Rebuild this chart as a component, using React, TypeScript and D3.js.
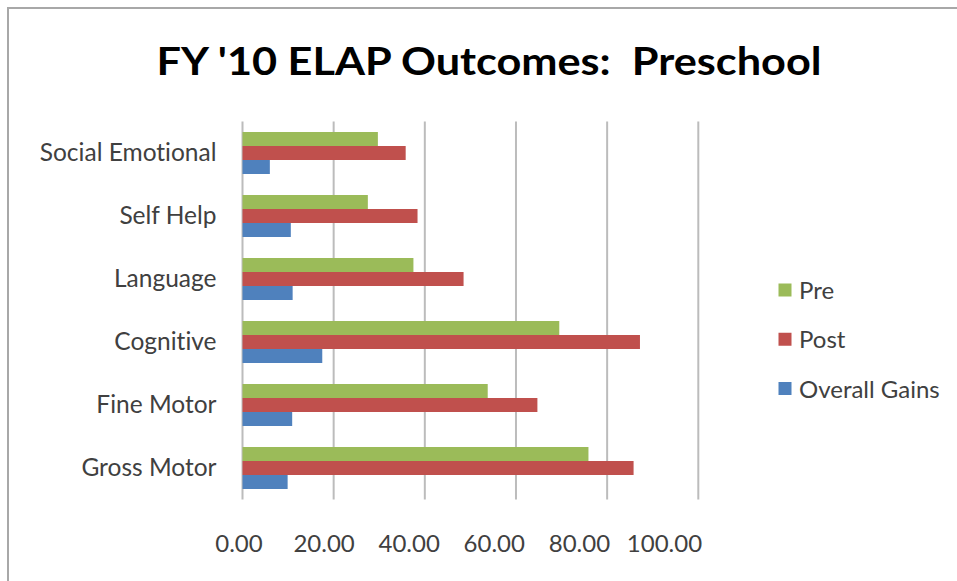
import React from "react";
import * as d3 from "d3";

const categories = ["Social Emotional", "Self Help", "Language", "Cognitive", "Fine Motor", "Gross Motor"];
const seriesNames = ["Pre", "Post", "Overall Gains"];
const preValues = [29.7, 27.5, 37.5, 69.5, 53.8, 75.9];
const postValues = [35.8, 38.4, 48.5, 87.2, 64.7, 85.8];
const gainValues = [6.0, 10.6, 11.0, 17.5, 10.9, 9.9];
const tickValues = [0, 20, 40, 60, 80, 100];
const tickLabels = ["0.00", "20.00", "40.00", "60.00", "80.00", "100.00"];
const seriesColors = ["#9BBB59", "#C0504D", "#4F81BD"];
const title = "FY '10 ELAP Outcomes:  Preschool";

const W = 957;
const H = 581;
const FONT = "Lato, 'Open Sans', sans-serif";
const noLig = { fontVariantLigatures: "none" as const, fontFeatureSettings: "'liga' 0" };

export default function App() {
  const series = [preValues, postValues, gainValues];
  const x = d3.scaleLinear().domain([0, 100]).range([242.5, 698.3]);
  const xLabel = d3.scaleLinear().domain([0, 100]).range([239, 664.5]);
  const y = d3
    .scaleBand<string>()
    .domain(categories)
    .range([121.5, 499.5])
    .paddingInner(1 / 3)
    .paddingOuter(1 / 6);
  const inner = d3
    .scaleBand<string>()
    .domain(seriesNames)
    .range([0, y.bandwidth()]);

  const legendY = d3.scalePoint<string>().domain(seriesNames).range([290, 388.5]);

  return (
    <svg
      width={W}
      height={H}
      style={{ position: "absolute", left: 0, top: 0, background: "#fff" }}
    >
      <rect x={0} y={0} width={W} height={H} fill="#fff" />
      <rect x={8} y={8} width={W + 20} height={H + 20} fill="none" stroke="#a8a8a8" strokeWidth={2} />
      <text
        x={489}
        y={74.5}
        textAnchor="middle"
        fontFamily={FONT}
        fontWeight="bold"
        fontSize={39}
        fill="#000"
        textLength={665}
        lengthAdjust="spacingAndGlyphs"
        style={{ whiteSpace: "pre", ...noLig }}
      >
        {title}
      </text>
      {tickValues.map((t) => (
        <line
          key={"g" + t}
          x1={x(t)}
          x2={x(t)}
          y1={121.5}
          y2={499.5}
          stroke="#bcbcbc"
          strokeWidth={2}
        />
      ))}
      {series.map((vals, si) =>
        categories.map((c, ci) => (
          <rect
            key={si + "-" + ci}
            x={x(0)}
            y={(y(c) as number) + (inner(seriesNames[si]) as number)}
            width={x(vals[ci]) - x(0)}
            height={inner.bandwidth()}
            fill={seriesColors[si]}
          />
        ))
      )}
      {categories.map((c) => (
        <text
          key={c}
          x={216.5}
          y={(y(c) as number) + y.bandwidth() / 2 + 8}
          textAnchor="end"
          fontFamily={FONT}
          fontSize={24.5}
          fill="#404040"
          style={noLig}
        >
          {c}
        </text>
      ))}
      {tickValues.map((t, i) => (
        <text
          key={"t" + t}
          x={xLabel(t)}
          y={552}
          textAnchor="middle"
          fontFamily={FONT}
          fontSize={24}
          fill="#404040"
        >
          {tickLabels[i]}
        </text>
      ))}
      {seriesNames.map((s, i) => (
        <g key={s}>
          <rect
            x={778.5}
            y={(legendY(s) as number) - 6.5}
            width={13}
            height={13}
            fill={seriesColors[i]}
          />
          <text
            x={799}
            y={(legendY(s) as number) + 9}
            fontFamily={FONT}
            fontSize={24}
            fill="#404040"
            style={noLig}
          >
            {s}
          </text>
        </g>
      ))}
    </svg>
  );
}
